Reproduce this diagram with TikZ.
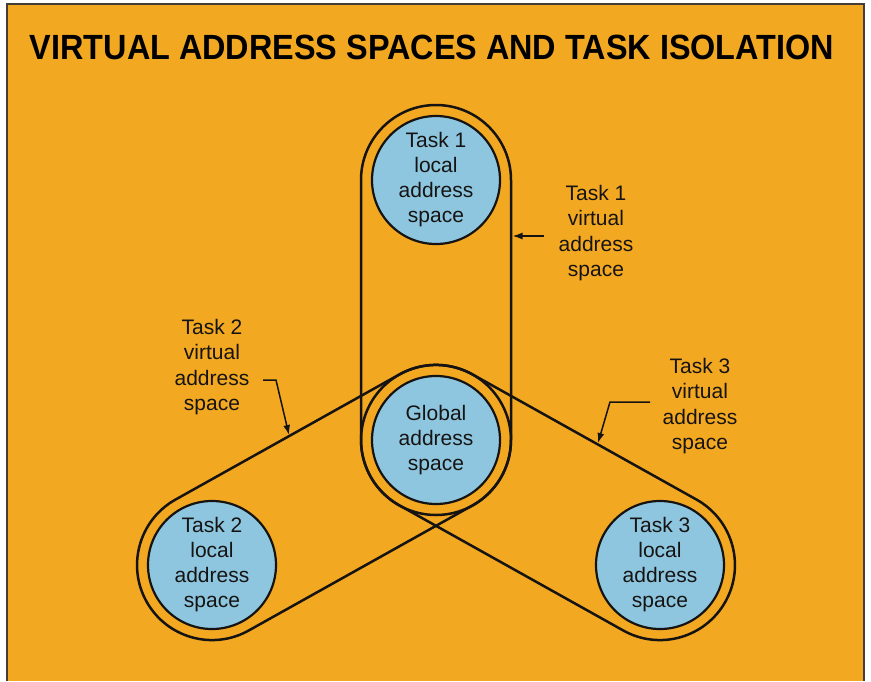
\documentclass[tikz,border=0pt]{standalone}
\usepackage{fontspec}
\setmainfont{Liberation Sans}
\usetikzlibrary{arrows.meta}
\definecolor{bgorange}{RGB}{243,168,34}
\definecolor{spaceblue}{RGB}{142,198,224}
\definecolor{ink}{RGB}{22,20,18}
\definecolor{framecol}{RGB}{70,60,55}
\tikzset{
  space/.style={circle, draw=ink, line width=2.2pt, fill=spaceblue, minimum size=128pt,
    inner sep=0pt, align=center, font=\fontsize{21}{25}\selectfont, text=ink},
  stadium/.style={rectangle, draw=ink, line width=2.5pt, minimum height=150pt,
    rounded corners=75pt, inner sep=0pt},
  lbl/.style={align=center, font=\fontsize{21}{25.5}\selectfont, text=ink, inner sep=0pt},
  pointer/.style={draw=ink, line width=1.5pt, -{Latex[length=10pt,width=7pt]}},
}
\begin{document}
\begin{tikzpicture}[x=1pt,y=-1pt]
\useasboundingbox (0,0) rectangle (871,681);
\fill[white] (0,0) rectangle (871,681);
\fill[bgorange] (7,4) rectangle (864,681);
\draw[framecol, line width=2pt] (7,681) -- (7,4) -- (864,4) -- (864,681);

\node[font=\bfseries\fontsize{35}{35}\selectfont, text=black, inner sep=0pt] (title) at (432,47)
  {\scalebox{0.925}[1]{VIRTUAL ADDRESS SPACES AND TASK ISOLATION}};

% stadiums (virtual address spaces)
\node[stadium, minimum width=410pt, rotate=90] (v1) at (436,310) {};
\node[stadium, minimum width=406.5pt, rotate=29.2] (v2) at (324,502.5) {};
\node[stadium, minimum width=406.5pt, rotate=-29.2] (v3) at (548,502.5) {};

% address spaces
\node[space] (t1) at (436,180) {Task 1\\local\\address\\space};
\node[space] (g) at (436,440) {Global\\address\\space};
\node[space] (t2) at (212,565) {Task 2\\local\\address\\space};
\node[space] (t3) at (660,565) {Task 3\\local\\address\\space};

% labels
\node[lbl] (l1) at (596,233) {Task 1\\virtual\\address\\space};
\node[lbl] (l2) at (212,367) {Task 2\\virtual\\address\\space};
\node[lbl] (l3) at (700,406) {Task 3\\virtual\\address\\space};

\coordinate (a1s) at (544,236);
\coordinate (a1e) at (512.5,236);
\coordinate (a2s) at (263,380);
\coordinate (a2b) at (276,380);
\coordinate (a2e) at (289,435);
\coordinate (a3s) at (650,402);
\coordinate (a3b) at (610,402);
\coordinate (a3e) at (598,443);

\draw[pointer] (a1s) -- (a1e);
\draw[pointer] (a2s) -- (a2b) -- (a2e);
\draw[pointer] (a3s) -- (a3b) -- (a3e);
\end{tikzpicture}
\end{document}
